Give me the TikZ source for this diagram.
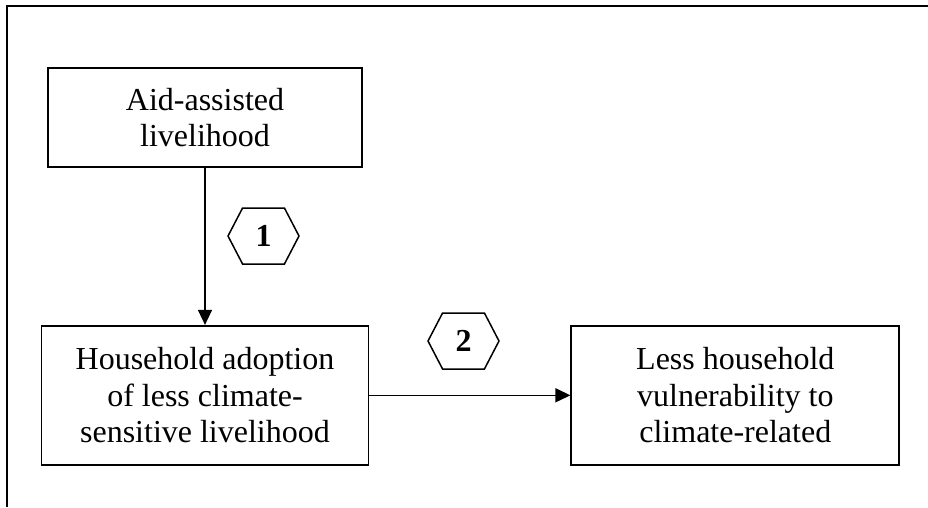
\documentclass[tikz,border=0pt]{standalone}
\usepackage{fontspec}
\setmainfont{Liberation Serif}
\usetikzlibrary{shapes.symbols, arrows.meta, positioning}

\begin{document}
\begin{tikzpicture}[x=1pt, y=1pt,
    box/.style={rectangle, draw=black, line width=1.8pt, align=center, inner sep=0pt, font=\fontsize{32}{36.5}\selectfont},
    hexa/.style={signal, signal to=east and west, signal pointer angle=125, draw=black, line width=1.5pt, minimum width=71pt, minimum height=56pt, inner sep=0pt, font=\fontsize{32}{36.5}\selectfont\bfseries},
    arrow/.style={-{Triangle[length=15pt, width=14pt]}, line width=1.5pt, color=black}
]
\useasboundingbox (0,0) rectangle (928,507);

% frame (top and left only)
\draw[line width=2pt] (7,0) -- (7,501) -- (928,501);

% boxes
\node[box, minimum width=314pt, minimum height=99pt] (aid) at (205,389.5) {Aid-assisted\\livelihood};
\node[box, minimum width=327pt, minimum height=139pt, below=157pt of aid] (adopt) {Household adoption\\of less climate-\\sensitive livelihood};
\node[box, minimum width=328pt, minimum height=139pt, right=201pt of adopt] (vuln) {Less household\\vulnerability to\\climate-related};

% step numbers
\node[hexa] (n1) at (263.5,271) {1};
\node[hexa] (n2) at (463.5,166) {2};

\draw[arrow] (aid) -- (adopt);
\draw[arrow] (adopt) -- (vuln);
\end{tikzpicture}
\end{document}
